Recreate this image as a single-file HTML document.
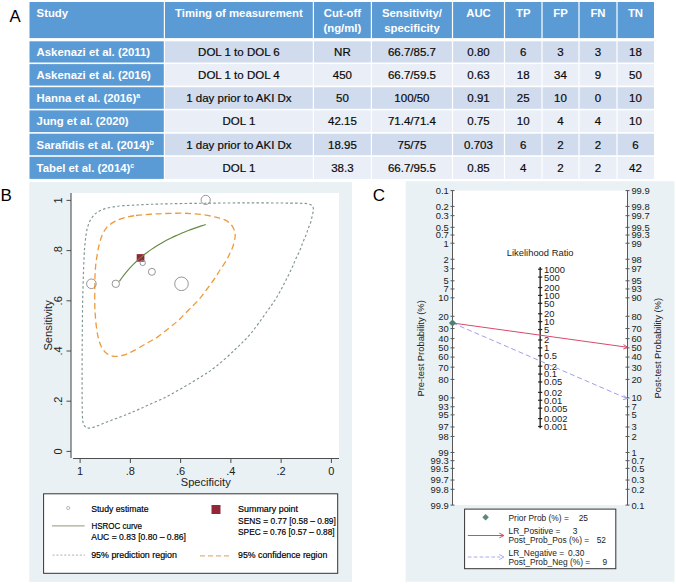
<!DOCTYPE html>
<html><head><meta charset="utf-8"><style>
html,body{margin:0;padding:0;background:#fff;}
svg{display:block;font-family:"Liberation Sans", sans-serif;}
</style></head><body>
<svg width="676" height="584" viewBox="0 0 676 584">
<rect width="676" height="584" fill="#fff"/>
<text x="9.4" y="22.3" font-size="16.8" fill="#000">A</text>
<rect x="29.50" y="2" width="134.30" height="36.10" fill="#5b9bd5"/>
<rect x="165.00" y="2" width="147.80" height="36.10" fill="#5b9bd5"/>
<rect x="314.00" y="2" width="56.80" height="36.10" fill="#5b9bd5"/>
<rect x="372.00" y="2" width="79.90" height="36.10" fill="#5b9bd5"/>
<rect x="453.10" y="2" width="50.80" height="36.10" fill="#5b9bd5"/>
<rect x="505.10" y="2" width="36.30" height="36.10" fill="#5b9bd5"/>
<rect x="542.60" y="2" width="35.80" height="36.10" fill="#5b9bd5"/>
<rect x="579.60" y="2" width="36.80" height="36.10" fill="#5b9bd5"/>
<rect x="617.60" y="2" width="36.40" height="36.10" fill="#5b9bd5"/>
<rect x="29.50" y="41.30" width="134.30" height="21.20" fill="#5b9bd5"/>
<rect x="165.00" y="41.30" width="147.80" height="21.20" fill="#d0dcee"/>
<rect x="314.00" y="41.30" width="56.80" height="21.20" fill="#d0dcee"/>
<rect x="372.00" y="41.30" width="79.90" height="21.20" fill="#d0dcee"/>
<rect x="453.10" y="41.30" width="50.80" height="21.20" fill="#d0dcee"/>
<rect x="505.10" y="41.30" width="36.30" height="21.20" fill="#d0dcee"/>
<rect x="542.60" y="41.30" width="35.80" height="21.20" fill="#d0dcee"/>
<rect x="579.60" y="41.30" width="36.80" height="21.20" fill="#d0dcee"/>
<rect x="617.60" y="41.30" width="36.40" height="21.20" fill="#d0dcee"/>
<rect x="29.50" y="64.10" width="134.30" height="21.50" fill="#5b9bd5"/>
<rect x="165.00" y="64.10" width="147.80" height="21.50" fill="#e9eef7"/>
<rect x="314.00" y="64.10" width="56.80" height="21.50" fill="#e9eef7"/>
<rect x="372.00" y="64.10" width="79.90" height="21.50" fill="#e9eef7"/>
<rect x="453.10" y="64.10" width="50.80" height="21.50" fill="#e9eef7"/>
<rect x="505.10" y="64.10" width="36.30" height="21.50" fill="#e9eef7"/>
<rect x="542.60" y="64.10" width="35.80" height="21.50" fill="#e9eef7"/>
<rect x="579.60" y="64.10" width="36.80" height="21.50" fill="#e9eef7"/>
<rect x="617.60" y="64.10" width="36.40" height="21.50" fill="#e9eef7"/>
<rect x="29.50" y="87.20" width="134.30" height="21.60" fill="#5b9bd5"/>
<rect x="165.00" y="87.20" width="147.80" height="21.60" fill="#d0dcee"/>
<rect x="314.00" y="87.20" width="56.80" height="21.60" fill="#d0dcee"/>
<rect x="372.00" y="87.20" width="79.90" height="21.60" fill="#d0dcee"/>
<rect x="453.10" y="87.20" width="50.80" height="21.60" fill="#d0dcee"/>
<rect x="505.10" y="87.20" width="36.30" height="21.60" fill="#d0dcee"/>
<rect x="542.60" y="87.20" width="35.80" height="21.60" fill="#d0dcee"/>
<rect x="579.60" y="87.20" width="36.80" height="21.60" fill="#d0dcee"/>
<rect x="617.60" y="87.20" width="36.40" height="21.60" fill="#d0dcee"/>
<rect x="29.50" y="110.40" width="134.30" height="21.70" fill="#5b9bd5"/>
<rect x="165.00" y="110.40" width="147.80" height="21.70" fill="#e9eef7"/>
<rect x="314.00" y="110.40" width="56.80" height="21.70" fill="#e9eef7"/>
<rect x="372.00" y="110.40" width="79.90" height="21.70" fill="#e9eef7"/>
<rect x="453.10" y="110.40" width="50.80" height="21.70" fill="#e9eef7"/>
<rect x="505.10" y="110.40" width="36.30" height="21.70" fill="#e9eef7"/>
<rect x="542.60" y="110.40" width="35.80" height="21.70" fill="#e9eef7"/>
<rect x="579.60" y="110.40" width="36.80" height="21.70" fill="#e9eef7"/>
<rect x="617.60" y="110.40" width="36.40" height="21.70" fill="#e9eef7"/>
<rect x="29.50" y="133.70" width="134.30" height="21.50" fill="#5b9bd5"/>
<rect x="165.00" y="133.70" width="147.80" height="21.50" fill="#d0dcee"/>
<rect x="314.00" y="133.70" width="56.80" height="21.50" fill="#d0dcee"/>
<rect x="372.00" y="133.70" width="79.90" height="21.50" fill="#d0dcee"/>
<rect x="453.10" y="133.70" width="50.80" height="21.50" fill="#d0dcee"/>
<rect x="505.10" y="133.70" width="36.30" height="21.50" fill="#d0dcee"/>
<rect x="542.60" y="133.70" width="35.80" height="21.50" fill="#d0dcee"/>
<rect x="579.60" y="133.70" width="36.80" height="21.50" fill="#d0dcee"/>
<rect x="617.60" y="133.70" width="36.40" height="21.50" fill="#d0dcee"/>
<rect x="29.50" y="156.80" width="134.30" height="22.10" fill="#5b9bd5"/>
<rect x="165.00" y="156.80" width="147.80" height="22.10" fill="#e9eef7"/>
<rect x="314.00" y="156.80" width="56.80" height="22.10" fill="#e9eef7"/>
<rect x="372.00" y="156.80" width="79.90" height="22.10" fill="#e9eef7"/>
<rect x="453.10" y="156.80" width="50.80" height="22.10" fill="#e9eef7"/>
<rect x="505.10" y="156.80" width="36.30" height="22.10" fill="#e9eef7"/>
<rect x="542.60" y="156.80" width="35.80" height="22.10" fill="#e9eef7"/>
<rect x="579.60" y="156.80" width="36.80" height="22.10" fill="#e9eef7"/>
<rect x="617.60" y="156.80" width="36.40" height="22.10" fill="#e9eef7"/>
<g font-size="11.35" font-weight="bold" fill="#fff">
<text x="36.6" y="17.0">Study</text>
<text x="238.90" y="17.0" text-anchor="middle">Timing of measurement</text>
<text x="342.40" y="17.0" text-anchor="middle">Cut-off</text>
<text x="342.40" y="31.8" text-anchor="middle">(ng/ml)</text>
<text x="411.95" y="17.0" text-anchor="middle">Sensitivity/</text>
<text x="411.95" y="31.8" text-anchor="middle">specificity</text>
<text x="478.50" y="17.0" text-anchor="middle">AUC</text>
<text x="523.25" y="17.0" text-anchor="middle">TP</text>
<text x="560.50" y="17.0" text-anchor="middle">FP</text>
<text x="598.00" y="17.0" text-anchor="middle">FN</text>
<text x="635.50" y="17.0" text-anchor="middle">TN</text>
<text x="36.6" y="56.10">Askenazi et al. (2011)</text>
<text x="36.6" y="79.05">Askenazi et al. (2016)</text>
<text x="36.6" y="102.20">Hanna et al. (2016)<tspan font-size="7" dy="-4">a</tspan></text>
<text x="36.6" y="125.45">Jung et al. (2020)</text>
<text x="36.6" y="148.65">Sarafidis et al. (2014)<tspan font-size="7" dy="-4">b</tspan></text>
<text x="36.6" y="172.05">Tabel et al. (2014)<tspan font-size="7" dy="-4">c</tspan></text>
</g>
<g font-size="11.5" fill="#0a0a0a" stroke="#0a0a0a" stroke-width="0.2">
<text x="238.90" y="56.10" text-anchor="middle">DOL 1 to DOL 6</text>
<text x="342.40" y="56.10" text-anchor="middle">NR</text>
<text x="411.95" y="56.10" text-anchor="middle">66.7/85.7</text>
<text x="478.50" y="56.10" text-anchor="middle">0.80</text>
<text x="523.25" y="56.10" text-anchor="middle">6</text>
<text x="560.50" y="56.10" text-anchor="middle">3</text>
<text x="598.00" y="56.10" text-anchor="middle">3</text>
<text x="635.50" y="56.10" text-anchor="middle">18</text>
<text x="238.90" y="79.05" text-anchor="middle">DOL 1 to DOL 4</text>
<text x="342.40" y="79.05" text-anchor="middle">450</text>
<text x="411.95" y="79.05" text-anchor="middle">66.7/59.5</text>
<text x="478.50" y="79.05" text-anchor="middle">0.63</text>
<text x="523.25" y="79.05" text-anchor="middle">18</text>
<text x="560.50" y="79.05" text-anchor="middle">34</text>
<text x="598.00" y="79.05" text-anchor="middle">9</text>
<text x="635.50" y="79.05" text-anchor="middle">50</text>
<text x="238.90" y="102.20" text-anchor="middle">1 day prior to AKI Dx</text>
<text x="342.40" y="102.20" text-anchor="middle">50</text>
<text x="411.95" y="102.20" text-anchor="middle">100/50</text>
<text x="478.50" y="102.20" text-anchor="middle">0.91</text>
<text x="523.25" y="102.20" text-anchor="middle">25</text>
<text x="560.50" y="102.20" text-anchor="middle">10</text>
<text x="598.00" y="102.20" text-anchor="middle">0</text>
<text x="635.50" y="102.20" text-anchor="middle">10</text>
<text x="238.90" y="125.45" text-anchor="middle">DOL 1</text>
<text x="342.40" y="125.45" text-anchor="middle">42.15</text>
<text x="411.95" y="125.45" text-anchor="middle">71.4/71.4</text>
<text x="478.50" y="125.45" text-anchor="middle">0.75</text>
<text x="523.25" y="125.45" text-anchor="middle">10</text>
<text x="560.50" y="125.45" text-anchor="middle">4</text>
<text x="598.00" y="125.45" text-anchor="middle">4</text>
<text x="635.50" y="125.45" text-anchor="middle">10</text>
<text x="238.90" y="148.65" text-anchor="middle">1 day prior to AKI Dx</text>
<text x="342.40" y="148.65" text-anchor="middle">18.95</text>
<text x="411.95" y="148.65" text-anchor="middle">75/75</text>
<text x="478.50" y="148.65" text-anchor="middle">0.703</text>
<text x="523.25" y="148.65" text-anchor="middle">6</text>
<text x="560.50" y="148.65" text-anchor="middle">2</text>
<text x="598.00" y="148.65" text-anchor="middle">2</text>
<text x="635.50" y="148.65" text-anchor="middle">6</text>
<text x="238.90" y="172.05" text-anchor="middle">DOL 1</text>
<text x="342.40" y="172.05" text-anchor="middle">38.3</text>
<text x="411.95" y="172.05" text-anchor="middle">66.7/95.5</text>
<text x="478.50" y="172.05" text-anchor="middle">0.85</text>
<text x="523.25" y="172.05" text-anchor="middle">4</text>
<text x="560.50" y="172.05" text-anchor="middle">2</text>
<text x="598.00" y="172.05" text-anchor="middle">2</text>
<text x="635.50" y="172.05" text-anchor="middle">42</text>
</g>
<text x="0.5" y="201" font-size="17" fill="#000">B</text>
<rect x="29.3" y="182" width="322.70" height="400" fill="#e9f1f4"/>
<rect x="71" y="193" width="268" height="265" fill="#fff"/>
<line x1="71" y1="193" x2="71" y2="458" stroke="#4d4d4d" stroke-width="1.1"/>
<line x1="73.1" y1="458.5" x2="339" y2="458.5" stroke="#4d4d4d" stroke-width="1.1"/>
<line x1="66.5" y1="451.40" x2="71" y2="451.40" stroke="#4d4d4d" stroke-width="1"/>
<text transform="translate(61.8,451.40) rotate(-90)" text-anchor="middle" font-size="11" fill="#222">0</text>
<line x1="331.40" y1="458.6" x2="331.40" y2="463" stroke="#4d4d4d" stroke-width="1"/>
<text x="331.40" y="475" text-anchor="middle" font-size="11" fill="#222">0</text>
<line x1="66.5" y1="401.20" x2="71" y2="401.20" stroke="#4d4d4d" stroke-width="1"/>
<text transform="translate(61.8,401.20) rotate(-90)" text-anchor="middle" font-size="11" fill="#222">.2</text>
<line x1="281.14" y1="458.6" x2="281.14" y2="463" stroke="#4d4d4d" stroke-width="1"/>
<text x="281.14" y="475" text-anchor="middle" font-size="11" fill="#222">.2</text>
<line x1="66.5" y1="351.00" x2="71" y2="351.00" stroke="#4d4d4d" stroke-width="1"/>
<text transform="translate(61.8,351.00) rotate(-90)" text-anchor="middle" font-size="11" fill="#222">.4</text>
<line x1="230.88" y1="458.6" x2="230.88" y2="463" stroke="#4d4d4d" stroke-width="1"/>
<text x="230.88" y="475" text-anchor="middle" font-size="11" fill="#222">.4</text>
<line x1="66.5" y1="300.80" x2="71" y2="300.80" stroke="#4d4d4d" stroke-width="1"/>
<text transform="translate(61.8,300.80) rotate(-90)" text-anchor="middle" font-size="11" fill="#222">.6</text>
<line x1="180.62" y1="458.6" x2="180.62" y2="463" stroke="#4d4d4d" stroke-width="1"/>
<text x="180.62" y="475" text-anchor="middle" font-size="11" fill="#222">.6</text>
<line x1="66.5" y1="250.60" x2="71" y2="250.60" stroke="#4d4d4d" stroke-width="1"/>
<text transform="translate(61.8,250.60) rotate(-90)" text-anchor="middle" font-size="11" fill="#222">.8</text>
<line x1="130.36" y1="458.6" x2="130.36" y2="463" stroke="#4d4d4d" stroke-width="1"/>
<text x="130.36" y="475" text-anchor="middle" font-size="11" fill="#222">.8</text>
<line x1="66.5" y1="200.40" x2="71" y2="200.40" stroke="#4d4d4d" stroke-width="1"/>
<text transform="translate(61.8,200.40) rotate(-90)" text-anchor="middle" font-size="11" fill="#222">1</text>
<line x1="80.10" y1="458.6" x2="80.10" y2="463" stroke="#4d4d4d" stroke-width="1"/>
<text x="80.10" y="475" text-anchor="middle" font-size="11" fill="#222">1</text>
<text transform="translate(51.9,325.4) rotate(-90)" text-anchor="middle" font-size="11.2" fill="#222">Sensitivity</text>
<text x="205.75" y="485.5" text-anchor="middle" font-size="11.1" fill="#222">Specificity</text>
<path d="M122.20,205.80 C126.20,205.45 129.70,205.30 136.00,205.00 C142.30,204.70 148.50,204.30 160.00,204.00 C171.50,203.70 190.00,203.38 205.00,203.20 C220.00,203.02 235.83,202.92 250.00,202.90 C264.17,202.88 281.02,203.02 290.00,203.10 C298.98,203.18 300.82,203.25 303.90,203.40 C306.98,203.55 307.13,203.63 308.50,204.00 C309.87,204.37 311.28,204.70 312.10,205.60 C312.92,206.50 313.37,207.75 313.40,209.40 C313.43,211.05 312.77,213.28 312.30,215.50 C311.83,217.72 311.32,220.47 310.60,222.70 C309.88,224.93 308.77,226.83 308.00,228.90 C307.23,230.97 306.85,232.87 306.00,235.10 C305.15,237.33 303.93,239.73 302.90,242.30 C301.87,244.87 301.03,247.63 299.80,250.50 C298.57,253.37 296.87,256.47 295.50,259.50 C294.13,262.53 293.38,264.88 291.60,268.70 C289.82,272.52 287.30,277.60 284.80,282.40 C282.30,287.20 279.68,292.48 276.60,297.50 C273.52,302.52 270.65,306.45 266.30,312.50 C261.95,318.55 255.70,327.63 250.50,333.80 C245.30,339.97 240.85,344.05 235.10,349.50 C229.35,354.95 221.85,361.85 216.00,366.50 C210.15,371.15 205.77,373.73 200.00,377.40 C194.23,381.07 187.37,385.08 181.40,388.50 C175.43,391.92 169.92,395.05 164.20,397.90 C158.48,400.75 151.80,403.48 147.10,405.60 C142.40,407.72 139.28,409.17 136.00,410.60 C132.72,412.03 130.55,412.93 127.40,414.20 C124.25,415.47 120.53,416.90 117.10,418.20 C113.67,419.50 110.23,420.67 106.80,422.00 C103.37,423.33 99.40,425.18 96.50,426.20 C93.60,427.22 91.28,428.02 89.40,428.10 C87.52,428.18 86.30,427.87 85.20,426.70 C84.10,425.53 83.30,424.72 82.80,421.10 C82.30,417.48 82.32,413.52 82.20,405.00 C82.08,396.48 82.08,382.50 82.10,370.00 C82.12,357.50 82.20,341.67 82.30,330.00 C82.40,318.33 82.50,309.67 82.70,300.00 C82.90,290.33 83.25,279.50 83.50,272.00 C83.75,264.50 83.98,259.42 84.20,255.00 C84.42,250.58 84.52,248.65 84.80,245.50 C85.08,242.35 85.47,239.03 85.90,236.10 C86.33,233.17 86.65,230.58 87.40,227.90 C88.15,225.22 89.05,222.38 90.40,220.00 C91.75,217.62 93.45,215.35 95.50,213.60 C97.55,211.85 99.95,210.58 102.70,209.50 C105.45,208.42 108.75,207.72 112.00,207.10 C115.25,206.48 118.20,206.15 122.20,205.80Z" fill="none" stroke="#7d9691" stroke-width="1.15" stroke-dasharray="2.5 2.3"/>
<path d="M136.00,215.50 C141.78,214.78 150.67,214.18 158.00,213.80 C165.33,213.42 174.33,213.23 180.00,213.20 C185.67,213.17 188.00,213.33 192.00,213.60 C196.00,213.87 200.00,214.20 204.00,214.80 C208.00,215.40 212.42,216.30 216.00,217.20 C219.58,218.10 222.92,218.90 225.50,220.20 C228.08,221.50 230.00,223.20 231.50,225.00 C233.00,226.80 233.90,229.00 234.50,231.00 C235.10,233.00 235.30,234.62 235.10,237.00 C234.90,239.38 234.10,242.72 233.30,245.30 C232.50,247.88 231.50,249.90 230.30,252.50 C229.10,255.10 227.82,257.98 226.10,260.90 C224.38,263.82 222.08,266.82 220.00,270.00 C217.92,273.18 217.07,275.13 213.60,280.00 C210.13,284.87 203.30,294.28 199.20,299.20 C195.10,304.12 192.40,306.03 189.00,309.50 C185.60,312.97 182.07,316.97 178.80,320.00 C175.53,323.03 172.97,324.85 169.40,327.70 C165.83,330.55 161.40,334.38 157.40,337.10 C153.40,339.82 149.72,341.53 145.40,344.00 C141.08,346.47 135.37,349.98 131.50,351.90 C127.63,353.82 125.12,354.77 122.20,355.50 C119.28,356.23 116.57,356.62 114.00,356.30 C111.43,355.98 108.85,355.10 106.80,353.60 C104.75,352.10 103.07,349.73 101.70,347.30 C100.33,344.87 99.47,342.27 98.60,339.00 C97.73,335.73 97.05,331.63 96.50,327.70 C95.95,323.77 95.58,319.18 95.30,315.40 C95.02,311.62 94.88,309.53 94.80,305.00 C94.72,300.47 94.77,293.07 94.80,288.20 C94.83,283.33 94.85,279.58 95.00,275.80 C95.15,272.02 95.35,268.92 95.70,265.50 C96.05,262.08 96.53,258.72 97.10,255.30 C97.67,251.88 98.25,248.37 99.10,245.00 C99.95,241.63 100.92,238.03 102.20,235.10 C103.48,232.17 104.83,229.60 106.80,227.40 C108.77,225.20 111.25,223.45 114.00,221.90 C116.75,220.35 119.63,219.17 123.30,218.10 C126.97,217.03 130.22,216.22 136.00,215.50Z" fill="none" stroke="#ee9a3a" stroke-width="1.3" stroke-dasharray="6.2 3.6"/>
<rect x="136.7" y="254.1" width="7.7" height="7.6" fill="#932637"/>
<path d="M119.41,281.32 L121.57,278.25 L123.72,275.37 L125.88,272.66 L128.04,270.10 L130.20,267.68 L132.36,265.39 L134.52,263.21 L136.68,261.15 L138.83,259.18 L140.99,257.31 L143.15,255.52 L145.31,253.82 L147.47,252.18 L149.63,250.62 L151.79,249.12 L153.94,247.68 L156.10,246.29 L158.26,244.96 L160.42,243.68 L162.58,242.44 L164.74,241.25 L166.90,240.10 L169.05,238.99 L171.21,237.92 L173.37,236.89 L175.53,235.88 L177.69,234.91 L179.85,233.97 L182.01,233.05 L184.16,232.17 L186.32,231.30 L188.48,230.47 L190.64,229.65 L192.80,228.86 L194.96,228.09 L197.12,227.35 L199.28,226.62 L201.43,225.91 L203.59,225.21 L205.75,224.54" fill="none" stroke="#658a42" stroke-width="1.15"/>
<circle cx="205.7" cy="199.9" r="4.6" fill="none" stroke="#8a8a8a" stroke-width="0.9"/>
<circle cx="91.4" cy="283.8" r="4.8" fill="none" stroke="#8a8a8a" stroke-width="0.9"/>
<circle cx="115.8" cy="283.8" r="3.7" fill="none" stroke="#8a8a8a" stroke-width="0.9"/>
<circle cx="181.5" cy="283.8" r="6.8" fill="none" stroke="#8a8a8a" stroke-width="0.9"/>
<circle cx="151.9" cy="271.8" r="3.5" fill="none" stroke="#8a8a8a" stroke-width="0.9"/>
<circle cx="142.7" cy="262.9" r="2.7" fill="none" stroke="#8a8a8a" stroke-width="0.9"/>
<rect x="43.6" y="493.8" width="294.10" height="79.50" fill="#fff" stroke="#333" stroke-width="1"/>
<g font-size="8.7" fill="#000" stroke="#000" stroke-width="0.18">
<circle cx="68.2" cy="508" r="1.6" fill="none" stroke="#999" stroke-width="0.7"/>
<text x="91.2" y="511.8" textLength="57.3" lengthAdjust="spacingAndGlyphs">Study estimate</text>
<line x1="52" y1="525.9" x2="84.6" y2="525.9" stroke="#a6ab92" stroke-width="1.1"/>
<text x="91.5" y="528.9" textLength="50.5" lengthAdjust="spacingAndGlyphs">HSROC curve</text>
<text x="91.2" y="540" textLength="94.7" lengthAdjust="spacingAndGlyphs">AUC = 0.83 [0.80 – 0.86]</text>
<line x1="52.5" y1="555.1" x2="85" y2="555.1" stroke="#a2acab" stroke-width="0.9" stroke-dasharray="2.1 1.8"/>
<text x="91.2" y="558.2" textLength="85.7" lengthAdjust="spacingAndGlyphs">95% prediction region</text>
<rect x="211.5" y="505" width="9" height="9" fill="#932637" stroke="none"/>
<text x="238.1" y="512.3" textLength="59.9" lengthAdjust="spacingAndGlyphs">Summary point</text>
<text x="238.1" y="523.7" textLength="97.7" lengthAdjust="spacingAndGlyphs">SENS = 0.77 [0.58 – 0.89]</text>
<text x="238.1" y="535.1" textLength="96.5" lengthAdjust="spacingAndGlyphs">SPEC = 0.76 [0.57 – 0.88]</text>
<line x1="200" y1="555.9" x2="230.6" y2="555.9" stroke="#e6b07a" stroke-width="1.2" stroke-dasharray="5 3"/>
<text x="238.1" y="558.2" textLength="89.2" lengthAdjust="spacingAndGlyphs">95% confidence region</text>
</g>
<text x="372.8" y="200.8" font-size="17" fill="#000">C</text>
<rect x="405.7" y="181.3" width="268.80" height="400.40" fill="#e9f1f4"/>
<rect x="452.5" y="190.6" width="175.00" height="314.50" fill="#fff"/>
<line x1="452.5" y1="190.6" x2="452.5" y2="505.1" stroke="#585858" stroke-width="1"/>
<line x1="627.5" y1="190.6" x2="627.5" y2="505.1" stroke="#585858" stroke-width="1"/>
<line x1="540.2" y1="267.01" x2="540.2" y2="428.19" stroke="#444" stroke-width="1.6"/>
<g font-size="9.4" fill="#222">
<line x1="450.50" y1="190.60" x2="454.50" y2="190.60" stroke="#585858" stroke-width="1"/>
<text x="448.80" y="194.00" text-anchor="end">0.1</text>
<line x1="625.50" y1="505.10" x2="629.50" y2="505.10" stroke="#585858" stroke-width="1"/>
<text x="631.40" y="508.50">0.1</text>
<line x1="450.50" y1="206.40" x2="454.50" y2="206.40" stroke="#585858" stroke-width="1"/>
<text x="448.80" y="209.80" text-anchor="end">0.2</text>
<line x1="625.50" y1="489.30" x2="629.50" y2="489.30" stroke="#585858" stroke-width="1"/>
<text x="631.40" y="492.70">0.2</text>
<line x1="450.50" y1="215.66" x2="454.50" y2="215.66" stroke="#585858" stroke-width="1"/>
<text x="448.80" y="219.06" text-anchor="end">0.3</text>
<line x1="625.50" y1="480.04" x2="629.50" y2="480.04" stroke="#585858" stroke-width="1"/>
<text x="631.40" y="483.44">0.3</text>
<line x1="450.50" y1="227.33" x2="454.50" y2="227.33" stroke="#585858" stroke-width="1"/>
<text x="448.80" y="230.73" text-anchor="end">0.5</text>
<line x1="625.50" y1="468.37" x2="629.50" y2="468.37" stroke="#585858" stroke-width="1"/>
<text x="631.40" y="471.77">0.5</text>
<line x1="450.50" y1="235.04" x2="454.50" y2="235.04" stroke="#585858" stroke-width="1"/>
<text x="448.80" y="238.44" text-anchor="end">0.7</text>
<line x1="625.50" y1="460.66" x2="629.50" y2="460.66" stroke="#585858" stroke-width="1"/>
<text x="631.40" y="464.06">0.7</text>
<line x1="450.50" y1="243.23" x2="454.50" y2="243.23" stroke="#585858" stroke-width="1"/>
<text x="448.80" y="246.63" text-anchor="end">1</text>
<line x1="625.50" y1="452.47" x2="629.50" y2="452.47" stroke="#585858" stroke-width="1"/>
<text x="631.40" y="455.87">1</text>
<line x1="450.50" y1="259.24" x2="454.50" y2="259.24" stroke="#585858" stroke-width="1"/>
<text x="448.80" y="262.64" text-anchor="end">2</text>
<line x1="625.50" y1="436.46" x2="629.50" y2="436.46" stroke="#585858" stroke-width="1"/>
<text x="631.40" y="439.86">2</text>
<line x1="450.50" y1="268.71" x2="454.50" y2="268.71" stroke="#585858" stroke-width="1"/>
<text x="448.80" y="272.11" text-anchor="end">3</text>
<line x1="625.50" y1="426.99" x2="629.50" y2="426.99" stroke="#585858" stroke-width="1"/>
<text x="631.40" y="430.39">3</text>
<line x1="450.50" y1="280.81" x2="454.50" y2="280.81" stroke="#585858" stroke-width="1"/>
<text x="448.80" y="284.21" text-anchor="end">5</text>
<line x1="625.50" y1="414.89" x2="629.50" y2="414.89" stroke="#585858" stroke-width="1"/>
<text x="631.40" y="418.29">5</text>
<line x1="450.50" y1="288.96" x2="454.50" y2="288.96" stroke="#585858" stroke-width="1"/>
<text x="448.80" y="292.36" text-anchor="end">7</text>
<line x1="625.50" y1="406.74" x2="629.50" y2="406.74" stroke="#585858" stroke-width="1"/>
<text x="631.40" y="410.14">7</text>
<line x1="450.50" y1="297.82" x2="454.50" y2="297.82" stroke="#585858" stroke-width="1"/>
<text x="448.80" y="301.22" text-anchor="end">10</text>
<line x1="625.50" y1="397.88" x2="629.50" y2="397.88" stroke="#585858" stroke-width="1"/>
<text x="631.40" y="401.28">10</text>
<line x1="450.50" y1="316.29" x2="454.50" y2="316.29" stroke="#585858" stroke-width="1"/>
<text x="448.80" y="319.69" text-anchor="end">20</text>
<line x1="625.50" y1="379.41" x2="629.50" y2="379.41" stroke="#585858" stroke-width="1"/>
<text x="631.40" y="382.81">20</text>
<line x1="450.50" y1="328.56" x2="454.50" y2="328.56" stroke="#585858" stroke-width="1"/>
<text x="448.80" y="331.96" text-anchor="end">30</text>
<line x1="625.50" y1="367.14" x2="629.50" y2="367.14" stroke="#585858" stroke-width="1"/>
<text x="631.40" y="370.54">30</text>
<line x1="450.50" y1="338.62" x2="454.50" y2="338.62" stroke="#585858" stroke-width="1"/>
<text x="448.80" y="342.02" text-anchor="end">40</text>
<line x1="625.50" y1="357.08" x2="629.50" y2="357.08" stroke="#585858" stroke-width="1"/>
<text x="631.40" y="360.48">40</text>
<line x1="450.50" y1="347.85" x2="454.50" y2="347.85" stroke="#585858" stroke-width="1"/>
<text x="448.80" y="351.25" text-anchor="end">50</text>
<line x1="625.50" y1="347.85" x2="629.50" y2="347.85" stroke="#585858" stroke-width="1"/>
<text x="631.40" y="351.25">50</text>
<line x1="450.50" y1="357.08" x2="454.50" y2="357.08" stroke="#585858" stroke-width="1"/>
<text x="448.80" y="360.48" text-anchor="end">60</text>
<line x1="625.50" y1="338.62" x2="629.50" y2="338.62" stroke="#585858" stroke-width="1"/>
<text x="631.40" y="342.02">60</text>
<line x1="450.50" y1="367.14" x2="454.50" y2="367.14" stroke="#585858" stroke-width="1"/>
<text x="448.80" y="370.54" text-anchor="end">70</text>
<line x1="625.50" y1="328.56" x2="629.50" y2="328.56" stroke="#585858" stroke-width="1"/>
<text x="631.40" y="331.96">70</text>
<line x1="450.50" y1="379.41" x2="454.50" y2="379.41" stroke="#585858" stroke-width="1"/>
<text x="448.80" y="382.81" text-anchor="end">80</text>
<line x1="625.50" y1="316.29" x2="629.50" y2="316.29" stroke="#585858" stroke-width="1"/>
<text x="631.40" y="319.69">80</text>
<line x1="450.50" y1="397.88" x2="454.50" y2="397.88" stroke="#585858" stroke-width="1"/>
<text x="448.80" y="401.28" text-anchor="end">90</text>
<line x1="625.50" y1="297.82" x2="629.50" y2="297.82" stroke="#585858" stroke-width="1"/>
<text x="631.40" y="301.22">90</text>
<line x1="450.50" y1="406.74" x2="454.50" y2="406.74" stroke="#585858" stroke-width="1"/>
<text x="448.80" y="410.14" text-anchor="end">93</text>
<line x1="625.50" y1="288.96" x2="629.50" y2="288.96" stroke="#585858" stroke-width="1"/>
<text x="631.40" y="292.36">93</text>
<line x1="450.50" y1="414.89" x2="454.50" y2="414.89" stroke="#585858" stroke-width="1"/>
<text x="448.80" y="418.29" text-anchor="end">95</text>
<line x1="625.50" y1="280.81" x2="629.50" y2="280.81" stroke="#585858" stroke-width="1"/>
<text x="631.40" y="284.21">95</text>
<line x1="450.50" y1="426.99" x2="454.50" y2="426.99" stroke="#585858" stroke-width="1"/>
<text x="448.80" y="430.39" text-anchor="end">97</text>
<line x1="625.50" y1="268.71" x2="629.50" y2="268.71" stroke="#585858" stroke-width="1"/>
<text x="631.40" y="272.11">97</text>
<line x1="450.50" y1="436.46" x2="454.50" y2="436.46" stroke="#585858" stroke-width="1"/>
<text x="448.80" y="439.86" text-anchor="end">98</text>
<line x1="625.50" y1="259.24" x2="629.50" y2="259.24" stroke="#585858" stroke-width="1"/>
<text x="631.40" y="262.64">98</text>
<line x1="450.50" y1="452.47" x2="454.50" y2="452.47" stroke="#585858" stroke-width="1"/>
<text x="448.80" y="455.87" text-anchor="end">99</text>
<line x1="625.50" y1="243.23" x2="629.50" y2="243.23" stroke="#585858" stroke-width="1"/>
<text x="631.40" y="246.63">99</text>
<line x1="450.50" y1="460.66" x2="454.50" y2="460.66" stroke="#585858" stroke-width="1"/>
<text x="448.80" y="464.06" text-anchor="end">99.3</text>
<line x1="625.50" y1="235.04" x2="629.50" y2="235.04" stroke="#585858" stroke-width="1"/>
<text x="631.40" y="238.44">99.3</text>
<line x1="450.50" y1="468.37" x2="454.50" y2="468.37" stroke="#585858" stroke-width="1"/>
<text x="448.80" y="471.77" text-anchor="end">99.5</text>
<line x1="625.50" y1="227.33" x2="629.50" y2="227.33" stroke="#585858" stroke-width="1"/>
<text x="631.40" y="230.73">99.5</text>
<line x1="450.50" y1="480.04" x2="454.50" y2="480.04" stroke="#585858" stroke-width="1"/>
<text x="448.80" y="483.44" text-anchor="end">99.7</text>
<line x1="625.50" y1="215.66" x2="629.50" y2="215.66" stroke="#585858" stroke-width="1"/>
<text x="631.40" y="219.06">99.7</text>
<line x1="450.50" y1="489.30" x2="454.50" y2="489.30" stroke="#585858" stroke-width="1"/>
<text x="448.80" y="492.70" text-anchor="end">99.8</text>
<line x1="625.50" y1="206.40" x2="629.50" y2="206.40" stroke="#585858" stroke-width="1"/>
<text x="631.40" y="209.80">99.8</text>
<line x1="450.50" y1="505.10" x2="454.50" y2="505.10" stroke="#585858" stroke-width="1"/>
<text x="448.80" y="508.50" text-anchor="end">99.9</text>
<line x1="625.50" y1="190.60" x2="629.50" y2="190.60" stroke="#585858" stroke-width="1"/>
<text x="631.40" y="194.00">99.9</text>
<line x1="538.10" y1="269.21" x2="542.30" y2="269.21" stroke="#222" stroke-width="1.2"/>
<text x="544.00" y="272.61">1000</text>
<line x1="538.10" y1="277.10" x2="542.30" y2="277.10" stroke="#222" stroke-width="1.2"/>
<text x="544.00" y="280.50">500</text>
<line x1="538.10" y1="287.54" x2="542.30" y2="287.54" stroke="#222" stroke-width="1.2"/>
<text x="544.00" y="290.94">200</text>
<line x1="538.10" y1="295.43" x2="542.30" y2="295.43" stroke="#222" stroke-width="1.2"/>
<text x="544.00" y="298.83">100</text>
<line x1="538.10" y1="303.32" x2="542.30" y2="303.32" stroke="#222" stroke-width="1.2"/>
<text x="544.00" y="306.72">50</text>
<line x1="538.10" y1="313.75" x2="542.30" y2="313.75" stroke="#222" stroke-width="1.2"/>
<text x="544.00" y="317.15">20</text>
<line x1="538.10" y1="321.64" x2="542.30" y2="321.64" stroke="#222" stroke-width="1.2"/>
<text x="544.00" y="325.04">10</text>
<line x1="538.10" y1="329.53" x2="542.30" y2="329.53" stroke="#222" stroke-width="1.2"/>
<text x="544.00" y="332.93">5</text>
<line x1="538.10" y1="339.96" x2="542.30" y2="339.96" stroke="#222" stroke-width="1.2"/>
<text x="544.00" y="343.36">2</text>
<line x1="538.10" y1="347.85" x2="542.30" y2="347.85" stroke="#222" stroke-width="1.2"/>
<text x="544.00" y="351.25">1</text>
<line x1="538.10" y1="355.74" x2="542.30" y2="355.74" stroke="#222" stroke-width="1.2"/>
<text x="544.00" y="359.14">0.5</text>
<line x1="538.10" y1="366.17" x2="542.30" y2="366.17" stroke="#222" stroke-width="1.2"/>
<text x="544.00" y="369.57">0.2</text>
<line x1="538.10" y1="374.06" x2="542.30" y2="374.06" stroke="#222" stroke-width="1.2"/>
<text x="544.00" y="377.46">0.1</text>
<line x1="538.10" y1="381.95" x2="542.30" y2="381.95" stroke="#222" stroke-width="1.2"/>
<text x="544.00" y="385.35">0.05</text>
<line x1="538.10" y1="392.38" x2="542.30" y2="392.38" stroke="#222" stroke-width="1.2"/>
<text x="544.00" y="395.78">0.02</text>
<line x1="538.10" y1="400.27" x2="542.30" y2="400.27" stroke="#222" stroke-width="1.2"/>
<text x="544.00" y="403.67">0.01</text>
<line x1="538.10" y1="408.16" x2="542.30" y2="408.16" stroke="#222" stroke-width="1.2"/>
<text x="544.00" y="411.56">0.005</text>
<line x1="538.10" y1="418.60" x2="542.30" y2="418.60" stroke="#222" stroke-width="1.2"/>
<text x="544.00" y="422.00">0.002</text>
<line x1="538.10" y1="426.49" x2="542.30" y2="426.49" stroke="#222" stroke-width="1.2"/>
<text x="544.00" y="429.89">0.001</text>
<text x="540.20" y="256" text-anchor="middle">Likelihood Ratio</text>
<text transform="translate(424.4,348.4) rotate(-90)" text-anchor="middle">Pre-test Probability (%)</text>
<text transform="translate(660.8,348.2) rotate(-90)" text-anchor="middle">Post-test Probability (%)</text>
</g>
<line x1="452.5" y1="323.00" x2="627.00" y2="347.20" stroke="#d84a6a" stroke-width="1"/>
<path d="M623.50,344.60 L627.50,347.20 L623.30,349.00" fill="none" stroke="#d84a6a" stroke-width="1"/>
<line x1="452.5" y1="323.00" x2="627.00" y2="398.50" stroke="#a0a0ea" stroke-width="1" stroke-dasharray="5 3"/>
<path d="M623.50,395.30 L627.50,398.50 L623.00,399.70" fill="none" stroke="#a0a0ea" stroke-width="1"/>
<path d="M452.50,319.40 L456.10,323.00 L452.50,326.60 L448.90,323.00Z" fill="#4f7f6e"/>
<rect x="464.6" y="509.1" width="151.20" height="59.60" fill="#fff" stroke="#333" stroke-width="1"/>
<g font-size="8.4" fill="#222">
<path d="M485.6,514.0 L488.9,517.3 L485.6,520.6 L482.3,517.3Z" fill="#5b8a78"/>
<text x="508.5" y="520.6">Prior Prob (%) =</text><text x="578.7" y="520.6">25</text>
<line x1="467.8" y1="535.5" x2="503.5" y2="535.5" stroke="#d94a68" stroke-width="1"/>
<path d="M499.3,533.1 L503.9,535.5 L499.3,537.9" fill="none" stroke="#d94a68" stroke-width="1"/>
<text x="508.5" y="533.9">LR_Positive =</text><text x="572.8" y="533.9">3</text>
<text x="508.5" y="542.8">Post_Prob_Pos (%) =</text><text x="596.7" y="542.8">52</text>
<line x1="467.8" y1="557" x2="500" y2="557" stroke="#a8a8ea" stroke-width="1" stroke-dasharray="3.7 2.2"/>
<path d="M499.3,554.5 L503.9,557 L499.3,559.5" fill="none" stroke="#a8a8ea" stroke-width="1"/>
<text x="508.5" y="556.3">LR_Negative =</text><text x="568" y="556.3">0.30</text>
<text x="508.5" y="564.8">Post_Prob_Neg (%) =</text><text x="602.6" y="564.8">9</text>
</g>
</svg>
</body></html>
